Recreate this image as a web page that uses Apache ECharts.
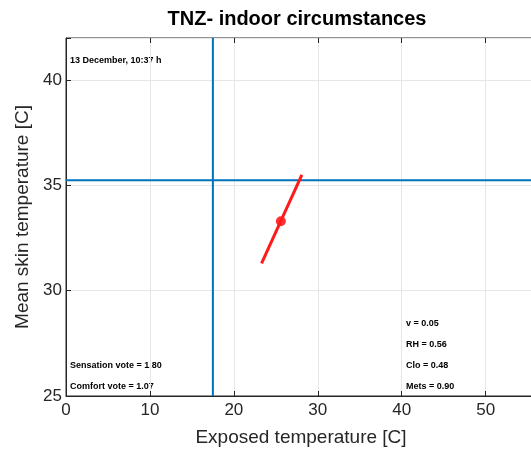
<!DOCTYPE html>
<html><head><meta charset="utf-8">
<script src="https://cdn.jsdelivr.net/npm/echarts@6/dist/echarts.min.js"></script>
<style>html,body{margin:0;padding:0;background:#fff}#c{width:531px;height:455px}</style>
</head><body><div id="c"></div>
<script>
const titleText = 'TNZ- indoor circumstances';
const xName = 'Exposed temperature [C]';
const yName = 'Mean skin temperature [C]';
const xRange = [0, 56];
const yRange = [25, 42];
const xTickStep = 10;
const yTickStep = 5;
const tnzX = [23.3, 28.1];
const tnzY = [31.3, 35.5];
const currentPoint = [25.6, 33.3];
const refX = 17.5;
const refY = 35.25;
const dateLabel = '13 December, 10:37 h';
const leftNotes = ['Sensation vote = 1.80', 'Comfort vote = 1.07'];
const rightNotes = ['v = 0.05', 'RH = 0.56', 'Clo = 0.48', 'Mets = 0.90'];

const font = 'Liberation Sans, Arial, Helvetica, sans-serif';
const chart = echarts.init(document.getElementById('c'));
const noteStyle = {fontFamily: font, fontSize: 9, fontWeight: 'bold', fill: '#000'};
const graphics = [
  {type: 'text', x: 297, y: 9, style: {text: titleText, font: 'bold 20px ' + font, fill: '#000', textAlign: 'center'}},
  {type: 'text', x: 70, y: 56, style: Object.assign({text: dateLabel}, noteStyle)}
];
leftNotes.forEach((t, i) => graphics.push({type: 'text', x: 70, y: 361 + i * 21, style: Object.assign({text: t}, noteStyle)}));
rightNotes.forEach((t, i) => graphics.push({type: 'text', x: 406, y: 319 + i * 21, style: Object.assign({text: t}, noteStyle)}));

const axisCommon = {
  axisLine: {show: true, onZero: false, lineStyle: {color: '#262626', width: 1}},
  axisTick: {show: true, inside: true, length: 5, lineStyle: {color: '#262626'}},
  splitLine: {show: true, lineStyle: {color: '#e6e6e6', width: 1}},
  axisLabel: {color: '#262626', fontFamily: font, fontSize: 17},
  nameTextStyle: {color: '#262626', fontFamily: font, fontSize: 19}
};

chart.setOption({
  animation: false,
  backgroundColor: '#fff',
  graphic: graphics,
  grid: {left: 66, top: 38, width: 470, bottom: 59, outerBoundsMode: 'none', containLabel: false,
    show: true, borderColor: '#262626', borderWidth: 1},
  xAxis: [
    Object.assign({}, axisCommon, {type: 'value', min: xRange[0], max: xRange[1], interval: xTickStep,
      name: xName, nameLocation: 'middle', nameGap: 32,
      axisLabel: Object.assign({}, axisCommon.axisLabel, {margin: 6, formatter: v => v > 50 ? '' : v})}),
    {type: 'value', position: 'top', min: xRange[0], max: xRange[1], interval: xTickStep,
      axisLine: {show: false}, axisLabel: {show: false}, splitLine: {show: false},
      axisTick: {show: true, inside: true, length: 5, lineStyle: {color: '#262626'}}}
  ],
  yAxis: Object.assign({}, axisCommon, {type: 'value', min: yRange[0], max: yRange[1], interval: yTickStep,
    name: yName, nameLocation: 'middle', nameGap: 34,
    axisLabel: Object.assign({}, axisCommon.axisLabel, {margin: 4, formatter: v => v > 40 ? '' : v})}),
  series: [
    {type: 'line', data: [[refX, yRange[0]], [refX, yRange[1]]], symbol: 'none', lineStyle: {color: '#0072BD', width: 2}, silent: true},
    {type: 'line', data: [[xRange[0], refY], [xRange[1], refY]], symbol: 'none', lineStyle: {color: '#0072BD', width: 2}, silent: true},
    {type: 'line', data: tnzX.map((x, i) => [x, tnzY[i]]), symbol: 'none', lineStyle: {color: '#ff1a1a', width: 3}},
    {type: 'scatter', data: [currentPoint], symbolSize: 10, itemStyle: {color: '#ff0000'}}
  ]
});
</script></body></html>
